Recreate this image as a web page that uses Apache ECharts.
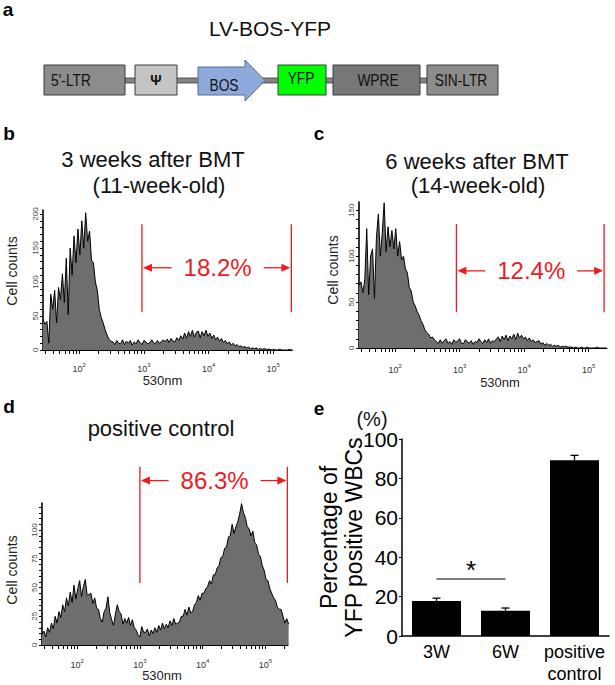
<!DOCTYPE html>
<html><head><meta charset="utf-8">
<script src="https://cdn.jsdelivr.net/npm/echarts@6/dist/echarts.min.js"></script>
<style>html,body{margin:0;padding:0;background:#fff}#c{width:615px;height:685px}</style>
</head><body><div id="c"></div>
<script>
const FONT = '"Liberation Sans", Arial, Helvetica, sans-serif';

// ---- Flow histograms: counts per bin; bins are log10(530nm) from 10^1.44 in 0.03-decade steps
const binStartLog = 1.44;
const binStepLog = 0.03;
const countsB = [45,38,42,10,82,60,88,40,92,74,112,70,135,52,150,110,168,128,178,140,190,150,202,160,175,132,128,100,88,60,48,40,30,22,16,13,
  12,8,14,10,9,15,8,13,10,14,7,12,9,15,11,8,14,12,9,11,15,11,9,14,10,12,15,
  12,16,11,17,13,12,18,14,21,16,25,17,27,20,29,19,26,28,18,27,21,29,20,25,17,22,15,19,13,17,
  11,14,9,12,7,10,6,8,5,6,4,5,3,4,2,3,2,3,1,2,1,2,1,1,1,0,1,0,0,1,0,0,0,0,1,0,0];
const countsC = [68,72,60,75,130,58,100,108,54,120,146,100,125,158,105,132,110,128,108,130,
  100,116,96,100,86,82,66,62,50,46,40,36,30,26,20,17,15,11,12,9,
  7,5,9,5,8,10,5,7,4,9,6,8,10,5,5,9,7,5,8,4,7,6,10,7,5,9,6,10,5,8,7,
  10,12,7,13,9,14,8,13,10,15,9,16,11,14,10,12,8,11,7,9,6,7,8,4,6,3,5,3,4,2,
  3,2,3,1,2,1,2,1,1,1,0,1,0,0,1,0,0,1,0,0,0,0,1,0,0,0,0,0];
const countsD = [9,12,7,15,11,19,14,25,19,29,24,35,29,41,34,46,37,52,40,49,
  56,42,51,57,43,44,45,36,41,32,31,23,20,29,32,42,28,22,17,27,
  35,29,27,18,23,19,24,17,22,15,13,9,7,16,11,11,14,8,13,10,
  15,11,17,13,19,14,18,15,21,17,23,18,19,20,25,25,31,26,33,28,
  29,35,37,43,39,45,45,49,51,56,53,61,61,67,69,76,77,84,85,94,
  95,105,97,103,107,114,123,115,111,103,101,95,99,89,87,79,77,69,65,57,
  56,49,45,41,39,33,31,31,25,19,23,18];
const histXLabelExp = [2, 3, 4, 5];          // 10^2 ... 10^5
const yLabelsB = [0, 50, 100, 150, 200];
const yLabelsC = [0, 50, 100, 150];
const yLabelsD = [0, 25, 50, 75, 100];

// ---- Gates (log10 units / counts) and percentages
const gatePct = [18.2, 12.4, 86.3];
const gateLo = [2.97, 2.95, 3.00];
const gateHi = [5.28, 5.24, 5.35];
const gateTop = [185, 135, 155];
const gateBottom = [56, 39, 54];
const gateArrow = [121, 84, 143];

// ---- Bar chart (panel e)
const barCats = ['3W', '6W', 'positive\ncontrol'];
const barVals = [17.8, 12.8, 89.2];
const barErr = [1.4, 1.4, 2.5];
const sigLevel = 29;

function toPairs(counts) {
  return counts.map((c, i) => [+(binStartLog + i * binStepLog).toFixed(2), c]);
}
function logMinorTicks(min, max) {
  const out = [];
  for (let n = 1; n <= 5; n++) for (let k = 1; k <= 9; k++) {
    const v = n + Math.log10(k);
    if (v >= min - 1e-9 && v <= max + 1e-9) out.push(v);
  }
  return out;
}
function stepTicks(step, max) { const o = []; for (let v = 0; v <= max + 1e-9; v += step) o.push(v); return o; }

function histX(gi, min, max, margin, nameGap, pad) {
  return {
    type: 'value', gridIndex: gi, min: min, max: max,
    axisLine: { show: true, onZero: false, lineStyle: { color: '#000', width: 1 } },
    splitLine: { show: false },
    axisTick: { show: true, length: 4, lineStyle: { color: '#000', width: 1 }, customValues: logMinorTicks(min, max) },
    axisLabel: {
      customValues: histXLabelExp, margin: margin,
      formatter: v => '{b|10}{s|' + Math.round(v) + '}',
      rich: {
        b: { fontSize: 9, color: '#333', fontFamily: FONT, lineHeight: 11, verticalAlign: 'bottom' },
        s: { fontSize: 6, color: '#333', fontFamily: FONT, lineHeight: 11, verticalAlign: 'top' }
      }
    },
    name: '530nm', nameLocation: 'middle', nameGap: nameGap, nameMoveOverlap: false,
    nameTextStyle: { fontSize: 13, color: '#222', fontFamily: FONT, padding: pad }
  };
}
function histY(gi, max, step, labels, nameGap, pad) {
  return {
    type: 'value', gridIndex: gi, min: 0, max: max,
    axisLine: { show: true, lineStyle: { color: '#000', width: 1.6 } },
    splitLine: { show: false },
    axisTick: { show: true, length: 3, lineStyle: { color: '#000', width: 1 }, customValues: stepTicks(step, max) },
    axisLabel: { customValues: labels, rotate: 90, fontSize: 8, color: '#444', margin: 4, fontFamily: FONT },
    name: 'Cell counts', nameLocation: 'middle', nameGap: nameGap, nameMoveOverlap: false,
    nameTextStyle: { fontSize: 14, color: '#222', fontFamily: FONT, padding: pad }
  };
}
function histSeries(gi, counts) {
  return {
    type: 'line', xAxisIndex: gi, yAxisIndex: gi, data: toPairs(counts),
    symbol: 'none', smooth: false, sampling: null,
    lineStyle: { color: '#000', width: 1 },
    areaStyle: { color: '#6e6e6e', opacity: 1 }
  };
}
const RED = '#f0191e';
function gateRender(params, api) {
  const lo = api.value(0), hi = api.value(1), top = api.value(2), bot = api.value(3), arr = api.value(4), pct = api.value(5);
  const lt = api.coord([lo, top]), lb = api.coord([lo, bot]);
  const rt = api.coord([hi, top]), rb = api.coord([hi, bot]);
  const la = api.coord([lo, arr]), ra = api.coord([hi, arr]);
  const y = la[1], mid = (la[0] + ra[0]) / 2;
  const st = { stroke: RED, lineWidth: 1.3 };
  return {
    type: 'group', children: [
      { type: 'line', shape: { x1: lt[0], y1: lt[1], x2: lb[0], y2: lb[1] }, style: st },
      { type: 'line', shape: { x1: rt[0], y1: rt[1], x2: rb[0], y2: rb[1] }, style: st },
      { type: 'line', shape: { x1: la[0] + 6, y1: y, x2: mid - 45, y2: y }, style: st },
      { type: 'polygon', shape: { points: [[la[0] + 1, y], [la[0] + 10, y - 4], [la[0] + 10, y + 4]] }, style: { fill: RED } },
      { type: 'line', shape: { x1: mid + 47, y1: y, x2: ra[0] - 6, y2: y }, style: st },
      { type: 'polygon', shape: { points: [[ra[0] - 1, y], [ra[0] - 10, y - 4], [ra[0] - 10, y + 4]] }, style: { fill: RED } },
      { type: 'text', style: { x: mid + 1, y: y, text: pct.toFixed(1) + '%', fill: RED, fontSize: 24, fontFamily: FONT, align: 'center', verticalAlign: 'middle' } }
    ]
  };
}
function gateSeries(gi) {
  return {
    type: 'custom', xAxisIndex: gi, yAxisIndex: gi, clip: false, z: 5, silent: true,
    renderItem: gateRender,
    encode: { x: [0, 1], y: [2, 3] },
    data: [[gateLo[gi], gateHi[gi], gateTop[gi], gateBottom[gi], gateArrow[gi], gatePct[gi]]]
  };
}
function errRender(params, api) {
  const i = api.value(0), v = api.value(1), e = api.value(2);
  const base = api.coord([i, v]), top = api.coord([i, v + e]);
  const st = { stroke: '#000', lineWidth: 1.3 };
  return { type: 'group', children: [
    { type: 'line', shape: { x1: base[0], y1: base[1], x2: top[0], y2: top[1] }, style: st },
    { type: 'line', shape: { x1: top[0] - 4, y1: top[1], x2: top[0] + 4, y2: top[1] }, style: st }
  ] };
}

// ---- Construct diagram (panel a) and free texts
function txt(x, y, s, size, opt, sx) {
  const el = { type: 'text', x: x, y: y, style: Object.assign({ text: s, fontSize: size, fontFamily: FONT, fill: '#111', align: 'center', verticalAlign: 'middle' }, opt || {}) };
  if (sx) { el.scaleX = sx; }
  return el;
}
const boxStroke = '#3c3c3c';
function box(x, w, fill) {
  return { type: 'rect', shape: { x: x, y: 65, width: w, height: 30 }, style: { fill: fill, stroke: boxStroke, lineWidth: 1 } };
}
const graphics = [
  { type: 'rect', shape: { x: 125, y: 78, width: 302, height: 5 }, style: { fill: '#858585', stroke: '#3c3c3c', lineWidth: 0.8 } },
  box(44, 81, '#8c8c8c'), box(135, 42, '#c4c4c4'),
  { type: 'polygon', shape: { points: [[198, 67], [245, 67], [245, 60], [265, 80.5], [245, 101], [245, 95], [198, 95]] }, style: { fill: '#8eaadb', stroke: '#556a90', lineWidth: 1 } },
  box(278, 48, '#00ff00'), box(333, 87, '#777777'), box(427, 71, '#8c8c8c'),
  txt(71, 80, "5'-LTR", 16, null, 0.86), txt(156, 80, 'Ψ', 14, { fontWeight: 'bold' }), txt(224, 85, 'BOS', 16, null, 0.86),
  txt(301, 78, 'YFP', 16, null, 0.86), txt(378, 80, 'WPRE', 16, null, 0.86), txt(461, 80, 'SIN-LTR', 16, null, 0.86),
  txt(270, 28, 'LV-BOS-YFP', 21),
  txt(8, 9, 'a', 19, { fontWeight: 'bold', fill: '#000' }),
  txt(9, 133, 'b', 19, { fontWeight: 'bold', fill: '#000' }),
  txt(319, 133, 'c', 19, { fontWeight: 'bold', fill: '#000' }),
  txt(9, 406, 'd', 19, { fontWeight: 'bold', fill: '#000' }),
  txt(319, 408, 'e', 19, { fontWeight: 'bold', fill: '#000' }),
  txt(153, 159, '3 weeks after BMT', 22),
  txt(159, 185, '(11-week-old)', 22),
  txt(477, 161, '6 weeks after BMT', 22),
  txt(478, 185, '(14-week-old)', 22),
  txt(161, 428, 'positive control', 22),
  txt(372, 419, '(%)', 20)
];

const chart = echarts.init(document.getElementById('c'), null, { renderer: 'svg' });
chart.setOption({
  animation: false,
  backgroundColor: '#fff',
  textStyle: { fontFamily: FONT },
  grid: [
    { left: 43, top: 210, width: 249, height: 140 },
    { left: 359, top: 202, width: 248, height: 146 },
    { left: 42, top: 503, width: 246, height: 142 },
    { left: 402, top: 439, width: 207, height: 200 }
  ],
  xAxis: [
    histX(0, 1.44, 5.29, 12, 24, [0, 10, 0, 0]),
    histX(1, 1.44, 5.285, 15, 28, [0, 0, 0, 34]),
    histX(2, 1.44, 5.36, 13, 24, [0, 6, 0, 0]),
    { type: 'category', gridIndex: 3, data: barCats,
      axisLine: { lineStyle: { color: '#000', width: 1.5 } }, axisTick: { show: false },
      axisLabel: { interval: 0, fontSize: 18, lineHeight: 22, color: '#000', margin: 5, fontFamily: FONT } }
  ],
  yAxis: [
    histY(0, 206, 10, yLabelsB, 24, [0, 0, 0, 18]),
    histY(1, 159, 10, yLabelsC, 19, [0, 0, 0, 10]),
    histY(2, 123.5, 5, yLabelsD, 23, [0, 0, 0, 8]),
    { type: 'value', gridIndex: 3, min: 0, max: 100, interval: 20,
      axisLine: { show: true, lineStyle: { color: '#000', width: 1.5 } },
      axisTick: { show: true, length: 3, lineStyle: { color: '#000' } },
      splitLine: { show: false },
      axisLabel: { fontSize: 21, color: '#000', margin: 4, fontFamily: FONT },
      name: 'Percentage of\nYFP positive WBCs', nameLocation: 'middle', nameGap: 36, nameMoveOverlap: false,
      nameTextStyle: { fontSize: 23, lineHeight: 25, color: '#000', fontFamily: FONT } }
  ],
  series: [
    histSeries(0, countsB), histSeries(1, countsC), histSeries(2, countsD),
    gateSeries(0), gateSeries(1), gateSeries(2),
    { type: 'bar', xAxisIndex: 3, yAxisIndex: 3, data: barVals, barWidth: 49,
      itemStyle: { color: '#000' },
      markLine: { silent: true, symbol: ['none', 'none'],
        lineStyle: { color: '#555', width: 1.5, type: 'solid' },
        label: { show: true, position: 'middle', formatter: '*', fontSize: 26, color: '#000', distance: -4, fontFamily: FONT },
        data: [[{ coord: [barCats[0], sigLevel] }, { coord: [barCats[1], sigLevel] }]] } },
    { type: 'custom', xAxisIndex: 3, yAxisIndex: 3, z: 5, renderItem: errRender,
      encode: { x: 0, y: 1 },
      data: barVals.map((v, i) => [i, v, barErr[i]]) }
  ],
  graphic: graphics
});
</script></body></html>
